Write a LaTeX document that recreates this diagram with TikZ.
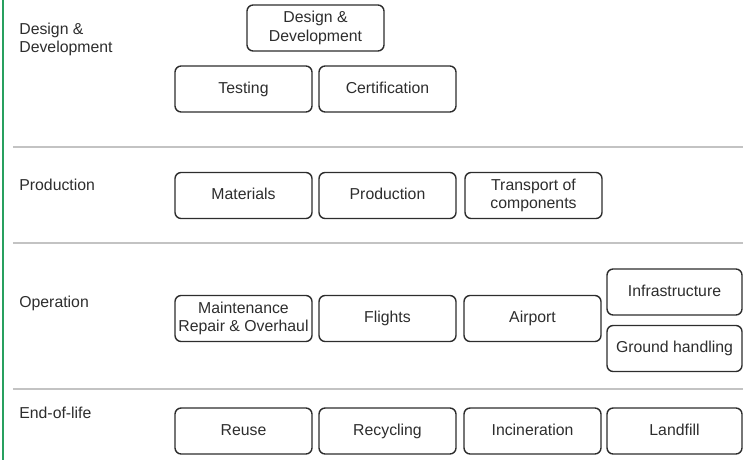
\documentclass[tikz,border=0pt]{standalone}
\usepackage{fontspec}
\setmainfont{Liberation Sans}
\usepackage{tikz}
\usetikzlibrary{
    positioning
}
\definecolor{TextGray}{RGB}{45,45,45}
\definecolor{RuleGray}{RGB}{195,195,195}
\definecolor{EdgeGreen}{RGB}{40,160,95}
\tikzset{
  box/.style      = {draw=TextGray, line width=0.8pt, rounded corners=3.5pt,
                     minimum width=2.74cm, minimum height=0.92cm, align=center,
                     inner sep=1pt, text=TextGray,
                     font=\fontsize{9}{10.4}\selectfont},
  sbox/.style     = {box, text height=6.6pt, text depth=1.9pt},
  nbox/.style     = {sbox, minimum width=2.70cm},
  rowlabel/.style = {inner sep=0pt, align=left, text=TextGray,
                     font=\fontsize{9}{10.4}\selectfont},
  sect/.style     = {RuleGray, line width=0.8pt}
}

\begin{document}
\begin{tikzpicture}
\useasboundingbox (0,0) rectangle (14.86,9.2);
% left edge and section rules
\coordinate (gtop) at (0.06,9.2);
\coordinate (gbot) at (0.06,0);
\draw[EdgeGreen, line width=1.2pt] (gtop) -- (gbot);
\foreach \y/\n in {6.26/a,4.34/b,1.42/c} {
  \coordinate (r\n w) at (0.26,\y);
  \coordinate (r\n e) at (14.86,\y);
  \draw[sect] (r\n w) -- (r\n e);
}
% row labels
\node[rowlabel, anchor=base west] (ldes) at (0.38,8.14) {Design \&\\Development};
\node[rowlabel, anchor=base west] (lpro) at (0.38,5.40) {Production};
\node[rowlabel, anchor=base west] (lope) at (0.38,3.06) {Operation};
\node[rowlabel, anchor=base west] (lend) at (0.38,0.84) {End-of-life};
% design & development
\node[box]  (desdev) at (6.31,8.64) {Design \&\\Development};
\node[sbox] (test)   at (4.87,7.42) {Testing};
\node[sbox] (cert)   at (7.75,7.42) {Certification};
% production
\node[sbox] (mat)    at (4.87,5.29) {Materials};
\node[sbox] (prod)   at (7.75,5.29) {Production};
\node[box]  (trans)  at (10.67,5.29) {Transport of\\components};
% operation
\node[box]  (mro)    at (4.87,2.83) {Maintenance\\Repair \& Overhaul};
\node[sbox] (fli)    at (7.75,2.83) {Flights};
\node[sbox] (air)    at (10.65,2.83) {Airport};
\node[nbox] (infra)  at (13.49,3.36) {Infrastructure};
\node[nbox] (ground) at (13.49,2.23) {Ground handling};
% end-of-life
\node[sbox] (reuse)  at (4.87,0.58) {Reuse};
\node[sbox] (recyc)  at (7.75,0.58) {Recycling};
\node[sbox] (incin)  at (10.65,0.58) {Incineration};
\node[nbox] (land)   at (13.49,0.58) {Landfill};
\end{tikzpicture}
\end{document}
